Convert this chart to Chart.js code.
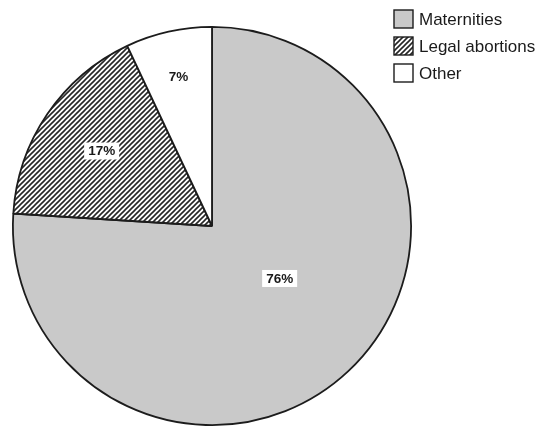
<!DOCTYPE html>
<html>
<head>
<meta charset="utf-8">
<script src="https://cdn.jsdelivr.net/npm/chart.js@4/dist/chart.umd.min.js"></script>
<style>
  html, body { margin: 0; padding: 0; background: #ffffff; }
  canvas { display: block; }
</style>
</head>
<body>
<canvas id="pie" width="537" height="430"></canvas>
<script>
// Outcome of pregnancies, share of total (%)
const categories = ['Maternities', 'Legal abortions', 'Other'];
const shares = [76, 17, 7];
const shareLabels = shares.map(v => v + '%');

// Diagonal hatch used for the second slice
function makeHatch() {
  const s = 5;
  const c = document.createElement('canvas');
  c.width = s; c.height = s;
  const g = c.getContext('2d');
  g.fillStyle = '#ffffff';
  g.fillRect(0, 0, s, s);
  g.strokeStyle = '#262626';
  g.lineWidth = 1.6;
  g.beginPath();
  g.moveTo(0, s); g.lineTo(s, 0);
  g.moveTo(-1, 1); g.lineTo(1, -1);
  g.moveTo(s - 1, s + 1); g.lineTo(s + 1, s - 1);
  g.stroke();
  return g.createPattern(c, 'repeat');
}

const fills = ['#c9c9c9', makeHatch(), '#ffffff'];
const edge = '#1c1c1c';

// Where each percentage sits: fraction of the radius and a small turn (degrees)
const labelRadius = [0.43, 0.67, 0.77];
const labelTurn = [-9, 0, 0];

const sliceLabels = {
  id: 'sliceLabels',
  afterDatasetsDraw(chart) {
    const ctx = chart.ctx;
    const meta = chart.getDatasetMeta(0);
    ctx.save();
    ctx.font = 'bold 13.5px "Liberation Sans", Arial, sans-serif';
    ctx.textAlign = 'center';
    ctx.textBaseline = 'middle';
    meta.data.forEach((arc, i) => {
      const p = arc.getProps(['x', 'y', 'startAngle', 'endAngle', 'outerRadius'], true);
      const mid = (p.startAngle + p.endAngle) / 2 + labelTurn[i] * Math.PI / 180;
      const r = p.outerRadius * labelRadius[i];
      const x = p.x + Math.cos(mid) * r;
      const y = p.y + Math.sin(mid) * r;
      const text = shareLabels[i];
      const w = ctx.measureText(text).width + 8;
      const h = 17;
      ctx.fillStyle = '#ffffff';
      ctx.fillRect(x - w / 2, y - h / 2, w, h);
      ctx.fillStyle = '#1a1a1a';
      ctx.fillText(text, x, y + 0.5);
    });
    ctx.restore();
  }
};

const boxLegend = {
  id: 'boxLegend',
  afterDraw(chart) {
    const ctx = chart.ctx;
    const ds = chart.data.datasets[0];
    ctx.save();
    ctx.font = '17px "Liberation Sans", Arial, sans-serif';
    ctx.textBaseline = 'middle';
    ctx.textAlign = 'left';
    chart.data.labels.forEach((label, i) => {
      const bx = 394, by = 10 + i * 27, bw = 19, bh = 18;
      ctx.fillStyle = ds.backgroundColor[i];
      ctx.fillRect(bx, by, bw, bh);
      ctx.strokeStyle = edge;
      ctx.lineWidth = 1.4;
      ctx.strokeRect(bx, by, bw, bh);
      ctx.fillStyle = '#1a1a1a';
      ctx.fillText(label, 419, by + bh / 2 + 1);
    });
    ctx.restore();
  }
};

new Chart(document.getElementById('pie'), {
  type: 'pie',
  data: {
    labels: categories,
    datasets: [{
      data: shares,
      backgroundColor: fills,
      borderColor: edge,
      borderWidth: 1.8
    }]
  },
  options: {
    responsive: false,
    devicePixelRatio: 1,
    animation: false,
    layout: { padding: { left: 12, top: 26, right: 125, bottom: 4 } },
    plugins: {
      legend: { display: false },
      tooltip: { enabled: false }
    }
  },
  plugins: [sliceLabels, boxLegend]
});
</script>
</body>
</html>
